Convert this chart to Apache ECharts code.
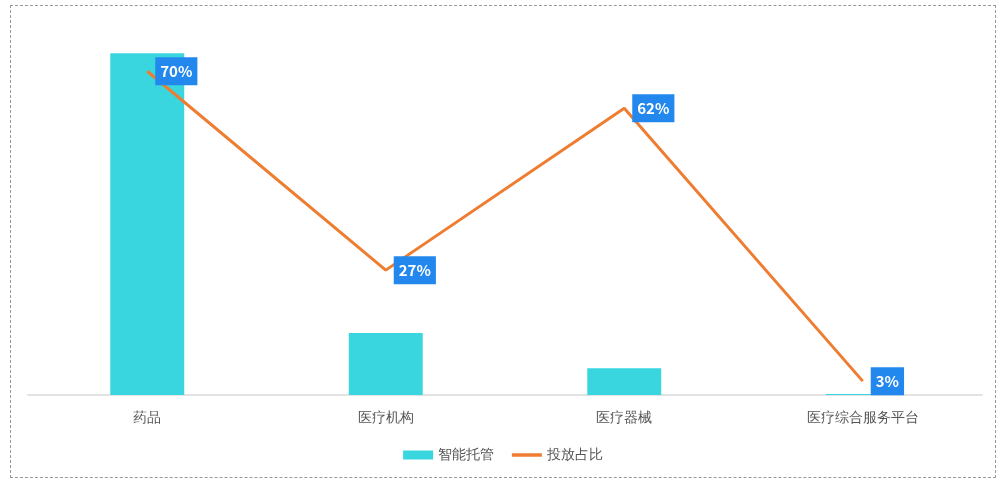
<!DOCTYPE html>
<html><head><meta charset="utf-8">
<script src="https://cdn.jsdelivr.net/npm/echarts@6/dist/echarts.min.js"></script>
<style>
html,body{margin:0;padding:0;background:#fff;width:1005px;height:485px;overflow:hidden;}
#box{position:absolute;left:10px;top:5px;width:986px;height:473px;border:1px dashed #999;box-sizing:border-box;}
#chart{width:100%;height:100%;}
</style></head>
<body><div id="box"><div id="chart"></div></div>
<script>
const categories = ['药品', '医疗机构', '医疗器械', '医疗综合服务平台'];
const barValues = [73.9, 13.4, 5.8, 0.2];
const lineValues = [70, 27, 62, 3];
const seriesNames = ['智能托管', '投放占比'];

const chart = echarts.init(document.getElementById('chart'));
chart.setOption({
  animation: false,
  grid: {left: 17, right: 13, top: 19, bottom: 82},
  legend: {
    bottom: 10, left: 'center',
    itemWidth: 30, itemHeight: 9, itemGap: 16,
    textStyle: {fontSize: 14, color: '#555'},
    data: [{name: seriesNames[0], icon: 'rect'},
           {name: seriesNames[1], itemStyle: {opacity: 0}, lineStyle: {width: 3.5}}]
  },
  xAxis: {
    type: 'category', data: categories,
    axisLine: {lineStyle: {color: '#e3e3e3', width: 2}},
    axisTick: {show: false},
    axisLabel: {fontSize: 14, color: '#555', margin: 16}
  },
  yAxis: {type: 'value', min: 0, max: 80, show: false, splitLine: {show: false}},
  series: [
    {
      name: seriesNames[0], type: 'bar', data: barValues,
      barWidth: '31%', itemStyle: {color: '#3ad6e0'}
    },
    {
      name: seriesNames[1], type: 'line', data: lineValues,
      symbol: 'circle', symbolSize: 0, showSymbol: true,
      lineStyle: {color: '#ee7d31', width: 3}, itemStyle: {color: '#ee7d31'},
      label: {
        show: true, position: 'right', distance: 8,
        formatter: '{c}%', color: '#fff', fontWeight: 'bold', fontSize: 15,
        fontFamily: 'Noto Sans CJK SC', lineHeight: 18,
        backgroundColor: '#2288ee', padding: [5, 5, 5, 5]
      }
    }
  ]
});
</script></body></html>
